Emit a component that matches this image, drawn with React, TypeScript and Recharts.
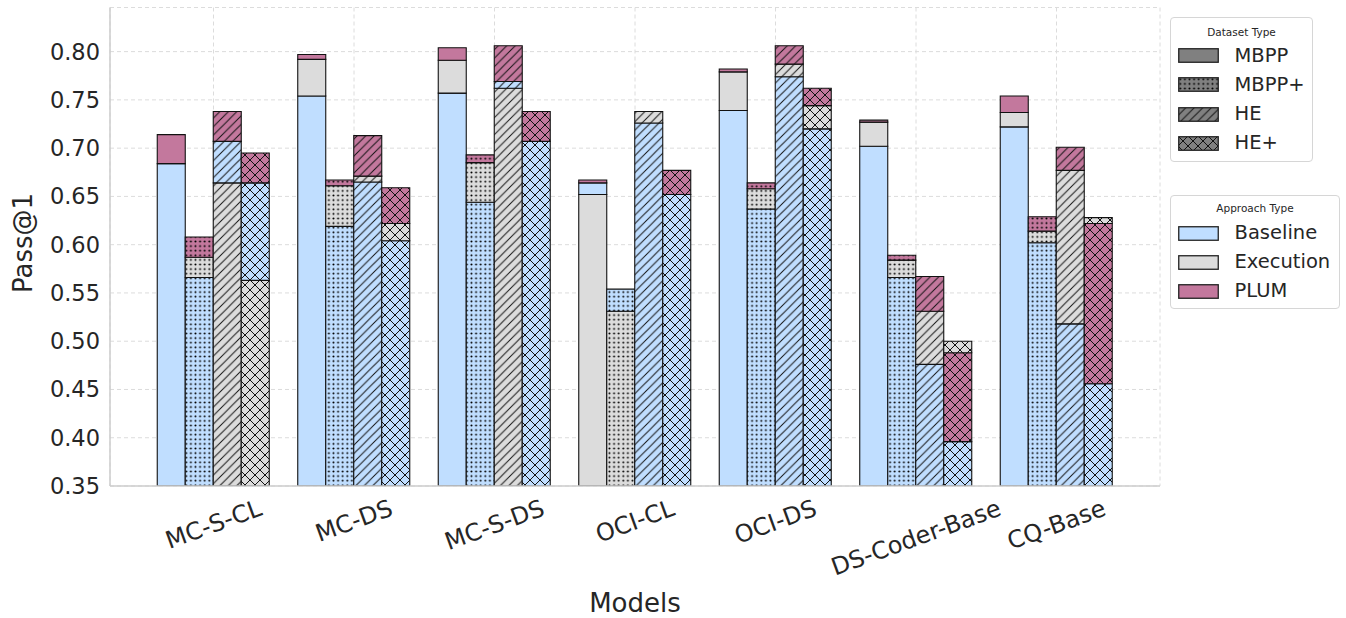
import React from 'react';
import { BarChart, Bar, XAxis, YAxis, CartesianGrid, Cell, Legend } from 'recharts';

const models = ['MC-S-CL', 'MC-DS', 'MC-S-DS', 'OCI-CL', 'OCI-DS', 'DS-Coder-Base', 'CQ-Base'];
const datasets = ['MBPP', 'MBPP+', 'HE', 'HE+'];
const approaches = ['Baseline', 'Execution', 'PLUM'];
const yTicks = [0.35, 0.4, 0.45, 0.5, 0.55, 0.6, 0.65, 0.7, 0.75, 0.8];

// Baseline
const baselineMBPP = [0.684, 0.754, 0.757, 0.664, 0.739, 0.702, 0.722];
const baselineMBPPPlus = [0.566, 0.619, 0.644, 0.554, 0.637, 0.566, 0.602];
const baselineHE = [0.707, 0.665, 0.769, 0.726, 0.774, 0.476, 0.518];
const baselineHEPlus = [0.664, 0.604, 0.707, 0.652, 0.72, 0.396, 0.456];
// Execution
const executionMBPP = [0.684, 0.792, 0.791, 0.652, 0.779, 0.727, 0.737];
const executionMBPPPlus = [0.587, 0.661, 0.685, 0.531, 0.658, 0.584, 0.614];
const executionHE = [0.664, 0.671, 0.762, 0.738, 0.787, 0.531, 0.677];
const executionHEPlus = [0.563, 0.622, 0.707, 0.652, 0.744, 0.5, 0.628];
// PLUM
const plumMBPP = [0.714, 0.797, 0.804, 0.667, 0.782, 0.729, 0.754];
const plumMBPPPlus = [0.608, 0.667, 0.693, 0.554, 0.664, 0.589, 0.629];
const plumHE = [0.738, 0.713, 0.806, 0.738, 0.806, 0.567, 0.701];
const plumHEPlus = [0.695, 0.659, 0.738, 0.677, 0.762, 0.488, 0.622];

const approachValues: number[][][] = [
  [baselineMBPP, baselineMBPPPlus, baselineHE, baselineHEPlus],
  [executionMBPP, executionMBPPPlus, executionHE, executionHEPlus],
  [plumMBPP, plumMBPPPlus, plumHE, plumHEPlus],
];

const approachColors = ['#c0deff', '#dcdcdc', '#c3789d'];
const FONT = '"DejaVu Sans", Verdana, sans-serif';
const TEXT = '#262626';

// Build stacked segments: each bar is drawn as three segments sorted by value
const rows = models.map((model, i) => {
  const row: Record<string, any> = { model };
  datasets.forEach((_, d) => {
    const vals = approaches.map((_, a) => ({ a, v: approachValues[a][d][i] }));
    const sorted = [...vals].sort((p, q) => (p.v === q.v ? p.a - q.a : p.v - q.v));
    let prev = 0;
    sorted.forEach((s, r) => {
      row[`d${d}_${r}`] = +(s.v - prev).toFixed(6);
      row[`d${d}_a${r}`] = s.a;
      prev = s.v;
    });
  });
  return row;
});

const PatternDef = ({ id, color, kind }: { id: string; color: string; kind: number }) => {
  if (kind === 0) {
    return (
      <pattern id={id} width={10} height={10} patternUnits="userSpaceOnUse">
        <rect width={10} height={10} fill={color} />
      </pattern>
    );
  }
  if (kind === 1) {
    const s = 4.6;
    return (
      <pattern id={id} width={s} height={s} patternUnits="userSpaceOnUse">
        <rect width={s} height={s} fill={color} />
        <circle cx={s / 2} cy={s / 2} r={1.0} fill="#000" />
      </pattern>
    );
  }
  if (kind === 2) {
    const s = 8.5;
    return (
      <pattern id={id} width={s} height={s} patternUnits="userSpaceOnUse">
        <rect width={s} height={s} fill={color} />
        <path d={`M0,${s} L${s},0 M-1,1 L1,-1 M${s - 1},${s + 1} L${s + 1},${s - 1}`} stroke="#111" strokeWidth={1} />
      </pattern>
    );
  }
  const s = 10;
  return (
    <pattern id={id} width={s} height={s} patternUnits="userSpaceOnUse">
      <rect width={s} height={s} fill={color} />
      <path
        d={`M0,${s} L${s},0 M-1,1 L1,-1 M${s - 1},${s + 1} L${s + 1},${s - 1} M0,0 L${s},${s} M-1,${s - 1} L1,${s + 1} M${s - 1},-1 L${s + 1},1`}
        stroke="#111"
        strokeWidth={1}
      />
    </pattern>
  );
};

let measureCtx: CanvasRenderingContext2D | null = null;
const measure = (text: string, fs: number) => {
  try {
    if (!measureCtx) measureCtx = document.createElement('canvas').getContext('2d');
    if (measureCtx) {
      measureCtx.font = `${fs}px "DejaVu Sans"`;
      return measureCtx.measureText(text).width;
    }
  } catch (e) {}
  return text.length * fs * 0.62;
};

const XTick = (props: any) => {
  const { x, y, payload } = props;
  const fs = 24;
  const text = String(payload.value);
  const w = measure(text, fs);
  const a = (20 * Math.PI) / 180;
  const h = fs * 1.0;
  const H = w * Math.sin(a) + h * Math.cos(a);
  const cy = y + 2 + H / 2;
  return (
    <text
      x={0}
      y={0}
      transform={`translate(${x},${cy}) rotate(-20)`}
      textAnchor="middle"
      dominantBaseline="central"
      fontSize={fs}
      fontFamily={FONT}
      fill={TEXT}
    >
      {text}
    </text>
  );
};

const Swatch = ({ id, color, kind }: { id: string; color: string; kind: number }) => (
  <svg width={41} height={15} style={{ display: 'block' }}>
    <defs>
      <PatternDef id={id} color={color} kind={kind} />
    </defs>
    <rect x={0.75} y={0.75} width={39.5} height={13.5} fill={`url(#${id})`} stroke="#222" strokeWidth={1.3} />
  </svg>
);

const LegendBox = ({
  left, top, width, height, title, titleY, items,
}: {
  left: number; top: number; width: number; height: number; title: string; titleY: number;
  items: { label: string; color: string; kind: number; cy: number; id: string }[];
}) => (
  <div
    style={{
      position: 'absolute', left, top, width, height, boxSizing: 'border-box',
      border: '1px solid #d6d6d6', borderRadius: 4, background: '#fff',
    }}
  >
    <div
      style={{
        position: 'absolute', left: 0, width: '100%', top: titleY - 7, height: 14, lineHeight: '14px',
        textAlign: 'center', fontSize: 10.5, fontFamily: FONT, color: TEXT,
      }}
    >
      {title}
    </div>
    {items.map((it) => (
      <div key={it.label}>
        <div style={{ position: 'absolute', left: 7, top: it.cy - 7.5 }}>
          <Swatch id={it.id} color={it.color} kind={it.kind} />
        </div>
        <div
          style={{
            position: 'absolute', left: 63.5, top: it.cy - 12, height: 24, lineHeight: '24px',
            fontSize: 19.5, fontFamily: FONT, color: TEXT, whiteSpace: 'nowrap',
          }}
        >
          {it.label}
        </div>
      </div>
    ))}
  </div>
);

const LegendContent = () => (
  <div style={{ position: 'relative', width: 176, height: 300 }}>
    <LegendBox
      left={0} top={0} width={143} height={145} title="Dataset Type" titleY={13.7}
      items={datasets.map((d, i) => ({ label: d, color: '#808080', kind: i, cy: 37.5 + i * 29.3, id: `lgd${i}` }))}
    />
    <LegendBox
      left={0} top={178} width={170} height={114} title="Approach Type" titleY={12.3}
      items={approaches.map((a, i) => ({ label: a, color: approachColors[i], kind: 0, cy: 37 + i * 29, id: `lga${i}` }))}
    />
  </div>
);

export default function App() {
  const bars = datasets
    .map((_, d) =>
      [0, 1, 2].map((r) => (
        <Bar
          key={`d${d}_${r}`}
          dataKey={`d${d}_${r}`}
          stackId={`s${d}`}
          barSize={28}
          stroke="#111"
          strokeWidth={1.1}
          isAnimationActive={false}
        >
          {rows.map((row, i) => (
            <Cell key={i} fill={`url(#p${row[`d${d}_a${r}`]}_${d})`} />
          ))}
        </Bar>
      ))
    )
    .flat();

  return (
    <div style={{ position: 'absolute', left: 0, top: 0, width: 1346, height: 618, background: '#fff', overflow: 'hidden' }}>
      <BarChart
        width={1346}
        height={618}
        data={rows}
        margin={{ top: 7.5, right: 186, bottom: 0, left: 0 }}
        barGap={0}
      >
        <defs>
          {approachColors.map((c, a) =>
            datasets.map((_, d) => <PatternDef key={`p${a}_${d}`} id={`p${a}_${d}`} color={c} kind={d} />)
          )}
        </defs>
        <CartesianGrid stroke="#dcdcdc" strokeDasharray="4 3" strokeWidth={1} />
        <XAxis
          dataKey="model"
          type="category"
          height={132}
          padding={{ left: 33.25, right: 33.25 }}
          tick={<XTick />}
          tickLine={false}
          axisLine={{ stroke: '#cccccc', strokeWidth: 1.5 }}
          interval={0}
          label={{
            content: (p: any) => {
              const vb = p.viewBox || { x: 110, width: 1050, y: 486 };
              return (
                <text
                  x={vb.x + vb.width / 2}
                  y={603}
                  textAnchor="middle"
                  dominantBaseline="central"
                  fontSize={26}
                  fontFamily={FONT}
                  fill={TEXT}
                >
                  Models
                </text>
              );
            },
          }}
        />
        <XAxis
          xAxisId="top"
          dataKey="model"
          orientation="top"
          height={0}
          tick={false}
          tickLine={false}
          axisLine={{ stroke: '#cccccc', strokeWidth: 1.5 }}
        />
        <YAxis
          type="number"
          width={110}
          domain={[0.35, 0.8457]}
          allowDataOverflow
          ticks={yTicks}
          tickFormatter={(v: number) => v.toFixed(2)}
          tick={{ fontSize: 22.5, fontFamily: FONT, fill: TEXT }}
          tickLine={false}
          tickSize={0}
          tickMargin={10}
          axisLine={{ stroke: '#cccccc', strokeWidth: 1.5 }}
          label={{
            content: () => (
              <text
                x={0}
                y={0}
                transform="translate(23,243) rotate(-90)"
                textAnchor="middle"
                dominantBaseline="central"
                fontSize={26}
                fontFamily={FONT}
                fill={TEXT}
              >
                Pass@1
              </text>
            ),
          }}
        />
        <YAxis
          yAxisId="right"
          orientation="right"
          width={0}
          domain={[0, 1]}
          tick={false}
          tickLine={false}
          axisLine={{ stroke: '#cccccc', strokeWidth: 1.5 }}
        />
        {bars}
        <Legend
          layout="vertical"
          align="center"
          verticalAlign="middle"
          content={() => <LegendContent />}
          wrapperStyle={{ left: 1170, top: 17, width: 176, height: 300, margin: 0, padding: 0 }}
        />
      </BarChart>
    </div>
  );
}
